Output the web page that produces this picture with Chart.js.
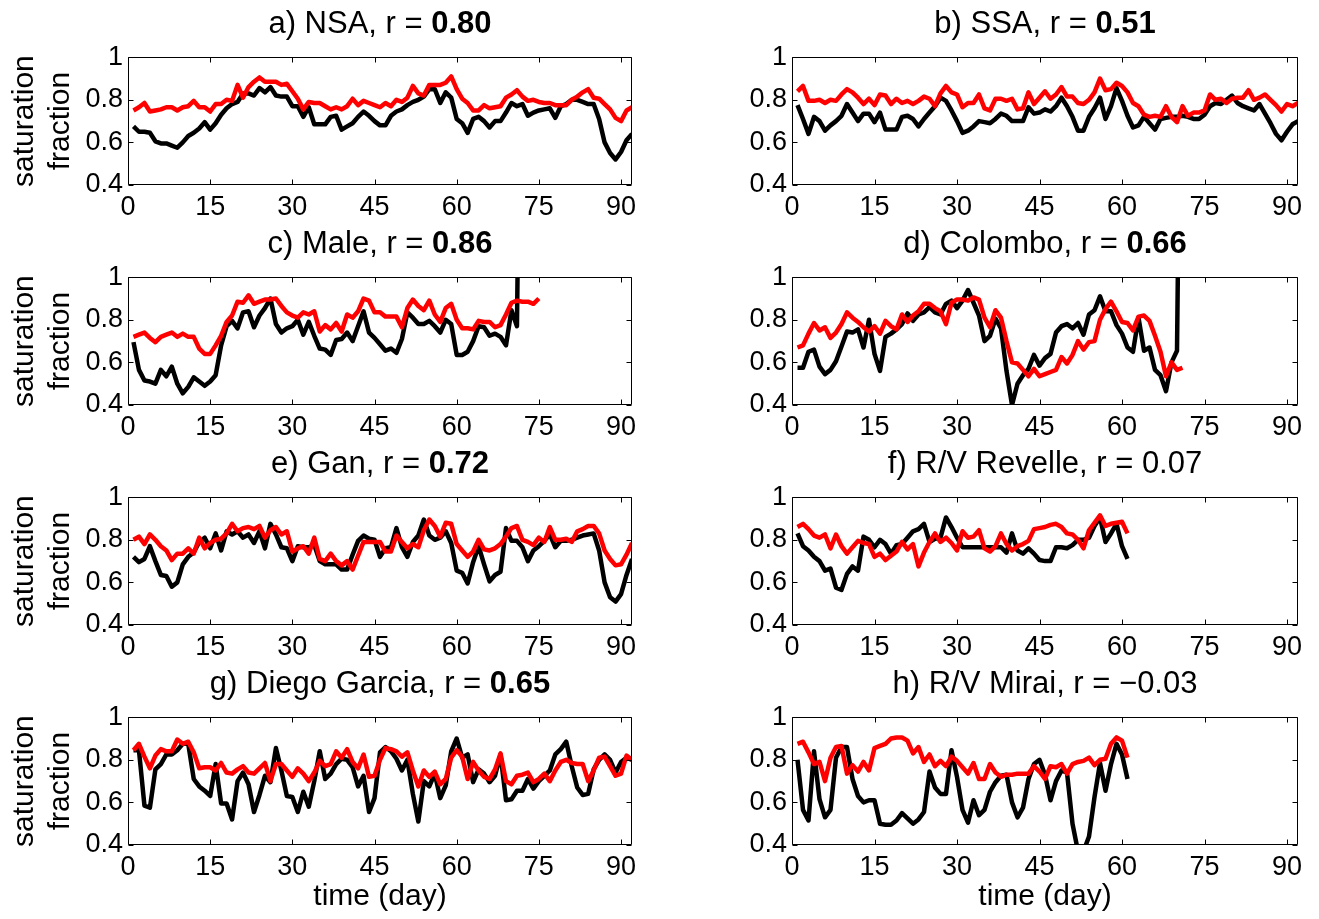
<!DOCTYPE html>
<html>
<head>
<meta charset="utf-8">
<script src="https://cdn.jsdelivr.net/npm/chart.js@4.4.1/dist/chart.umd.min.js"></script>
<style>
  body { margin: 0; background: #fff; width: 1319px; height: 919px; position: relative; overflow: hidden; font-family: "Liberation Sans", Arial, sans-serif; }
  canvas { position: absolute; }
  .ttl { position: absolute; width: 600px; font-size: 31px; line-height: 36px; text-align: center; white-space: nowrap; color: #000; }
</style>
</head>
<body>
<script>
// axis ticks
const xTicks = [0, 15, 30, 45, 60, 75, 90];
const yTicks = [0.4, 0.6, 0.8, 1];
const yTickLabels = ["0.4", "0.6", "0.8", "1"];

// black = observed, red = model; one value per day starting at day 1
const nsaObs = [0.675, 0.65, 0.65, 0.645, 0.605, 0.595, 0.595, 0.585, 0.575, 0.60,
	0.63, 0.645, 0.665, 0.695, 0.66, 0.69, 0.73, 0.76, 0.78, 0.79,
	0.83, 0.83, 0.82, 0.855, 0.835, 0.86, 0.82, 0.815, 0.815, 0.77,
	0.77, 0.72, 0.765, 0.685, 0.685, 0.685, 0.72, 0.725, 0.66, 0.675,
	0.69, 0.72, 0.745, 0.725, 0.70, 0.68, 0.68, 0.725, 0.745, 0.755,
	0.775, 0.79, 0.80, 0.815, 0.85, 0.85, 0.785, 0.835, 0.81, 0.71,
	0.69, 0.645, 0.71, 0.72, 0.70, 0.67, 0.70, 0.70, 0.74, 0.785,
	0.77, 0.78, 0.725, 0.74, 0.75, 0.755, 0.76, 0.715, 0.77, 0.78,
	0.80, 0.80, 0.79, 0.78, 0.78, 0.71, 0.60, 0.55, 0.52, 0.555,
	0.61, 0.64];
const nsaModel = [0.75, 0.765, 0.785, 0.745, 0.75, 0.755, 0.765, 0.765, 0.75, 0.765,
	0.77, 0.795, 0.765, 0.765, 0.745, 0.78, 0.78, 0.80, 0.795, 0.87,
	0.81, 0.86, 0.885, 0.905, 0.885, 0.885, 0.885, 0.87, 0.875, 0.84,
	0.805, 0.755, 0.79, 0.785, 0.785, 0.77, 0.755, 0.765, 0.755, 0.77,
	0.805, 0.775, 0.795, 0.785, 0.775, 0.765, 0.785, 0.77, 0.80, 0.79,
	0.81, 0.865, 0.83, 0.82, 0.87, 0.87, 0.87, 0.88, 0.91, 0.85,
	0.805, 0.785, 0.75, 0.75, 0.775, 0.76, 0.765, 0.77, 0.81, 0.825,
	0.845, 0.815, 0.795, 0.80, 0.79, 0.785, 0.785, 0.775, 0.775, 0.775,
	0.80, 0.815, 0.835, 0.85, 0.81, 0.805, 0.78, 0.755, 0.715, 0.70,
	0.75, 0.765];

const ssaObs = [0.775, 0.71, 0.64, 0.72, 0.70, 0.655, 0.68, 0.70, 0.725, 0.78,
	0.74, 0.70, 0.735, 0.735, 0.695, 0.74, 0.66, 0.66, 0.66, 0.72,
	0.725, 0.71, 0.675, 0.71, 0.74, 0.77, 0.81, 0.795, 0.75, 0.70,
	0.645, 0.655, 0.675, 0.70, 0.695, 0.69, 0.71, 0.735, 0.725, 0.70,
	0.70, 0.70, 0.765, 0.735, 0.74, 0.755, 0.745, 0.77, 0.81, 0.77,
	0.72, 0.655, 0.655, 0.72, 0.76, 0.81, 0.71, 0.77, 0.855, 0.795,
	0.725, 0.67, 0.68, 0.72, 0.69, 0.66, 0.71, 0.715, 0.72, 0.72,
	0.725, 0.72, 0.71, 0.71, 0.73, 0.77, 0.785, 0.78, 0.80, 0.82,
	0.785, 0.77, 0.76, 0.75, 0.78, 0.735, 0.69, 0.64, 0.61, 0.65,
	0.685, 0.70];
const ssaModel = [0.84, 0.865, 0.795, 0.795, 0.80, 0.785, 0.80, 0.795, 0.825, 0.85,
	0.835, 0.81, 0.78, 0.805, 0.775, 0.825, 0.82, 0.78, 0.805, 0.785,
	0.795, 0.78, 0.795, 0.815, 0.805, 0.77, 0.83, 0.865, 0.835, 0.825,
	0.765, 0.785, 0.785, 0.825, 0.76, 0.75, 0.805, 0.805, 0.795, 0.805,
	0.755, 0.76, 0.835, 0.78, 0.81, 0.84, 0.805, 0.825, 0.86, 0.815,
	0.815, 0.785, 0.78, 0.80, 0.835, 0.90, 0.845, 0.85, 0.88, 0.865,
	0.835, 0.785, 0.77, 0.73, 0.72, 0.725, 0.72, 0.77, 0.72, 0.695,
	0.77, 0.725, 0.74, 0.74, 0.75, 0.825, 0.80, 0.805, 0.785, 0.805,
	0.81, 0.81, 0.845, 0.80, 0.81, 0.825, 0.80, 0.775, 0.745, 0.78,
	0.77, 0.785];

// last Male / Colombo obs value runs far off the top of the axes
const maleObs = [0.695, 0.565, 0.515, 0.51, 0.50, 0.565, 0.535, 0.58, 0.50, 0.455,
	0.485, 0.53, 0.51, 0.49, 0.51, 0.54, 0.68, 0.77, 0.795, 0.76,
	0.835, 0.84, 0.765, 0.82, 0.855, 0.90, 0.78, 0.74, 0.76, 0.77,
	0.80, 0.73, 0.79, 0.725, 0.665, 0.66, 0.635, 0.705, 0.71, 0.74,
	0.70, 0.77, 0.84, 0.74, 0.715, 0.685, 0.655, 0.665, 0.645, 0.71,
	0.835, 0.81, 0.78, 0.78, 0.795, 0.77, 0.74, 0.80, 0.78, 0.635,
	0.635, 0.65, 0.70, 0.77, 0.765, 0.725, 0.735, 0.72, 0.68, 0.845,
	0.77, 3.0];
const maleModel = [0.72, 0.73, 0.74, 0.715, 0.695, 0.72, 0.73, 0.74, 0.72, 0.735,
	0.72, 0.72, 0.665, 0.64, 0.64, 0.68, 0.725, 0.79, 0.82, 0.885,
	0.88, 0.915, 0.875, 0.885, 0.895, 0.895, 0.90, 0.865, 0.835, 0.82,
	0.81, 0.835, 0.825, 0.84, 0.745, 0.775, 0.755, 0.785, 0.745, 0.825,
	0.81, 0.84, 0.90, 0.89, 0.835, 0.835, 0.815, 0.815, 0.815, 0.765,
	0.855, 0.895, 0.865, 0.845, 0.89, 0.825, 0.79, 0.855, 0.875, 0.80,
	0.76, 0.76, 0.755, 0.795, 0.79, 0.79, 0.765, 0.775, 0.825, 0.88,
	0.89, 0.885, 0.885, 0.875, 0.90];

const colomboObs = [0.575, 0.575, 0.65, 0.66, 0.58, 0.545, 0.565, 0.605, 0.675, 0.745,
	0.74, 0.755, 0.67, 0.80, 0.64, 0.56, 0.72, 0.735, 0.755, 0.78,
	0.83, 0.795, 0.825, 0.835, 0.86, 0.835, 0.825, 0.875, 0.89, 0.855,
	0.89, 0.94, 0.88, 0.82, 0.70, 0.725, 0.805, 0.76, 0.56, 0.40,
	0.50, 0.54, 0.57, 0.635, 0.585, 0.62, 0.64, 0.74, 0.77, 0.78,
	0.76, 0.785, 0.73, 0.825, 0.845, 0.91, 0.84, 0.84, 0.775, 0.735,
	0.67, 0.65, 0.81, 0.655, 0.67, 0.565, 0.54, 0.465, 0.60, 0.655,
	3.0];
const colomboModel = [0.67, 0.68, 0.735, 0.785, 0.75, 0.765, 0.715, 0.74, 0.78, 0.835,
	0.81, 0.79, 0.765, 0.745, 0.77, 0.735, 0.795, 0.77, 0.755, 0.825,
	0.79, 0.82, 0.84, 0.875, 0.875, 0.855, 0.84, 0.78, 0.88, 0.895,
	0.895, 0.89, 0.905, 0.895, 0.81, 0.765, 0.845, 0.81, 0.70, 0.60,
	0.595, 0.565, 0.535, 0.57, 0.535, 0.545, 0.555, 0.565, 0.625, 0.595,
	0.635, 0.70, 0.66, 0.695, 0.70, 0.80, 0.85, 0.885, 0.84, 0.79,
	0.785, 0.75, 0.815, 0.82, 0.795, 0.725, 0.65, 0.535, 0.60, 0.565,
	0.575];

const ganObs = [0.72, 0.695, 0.71, 0.77, 0.70, 0.635, 0.63, 0.58, 0.60, 0.685,
	0.72, 0.74, 0.79, 0.81, 0.76, 0.83, 0.75, 0.84, 0.825, 0.84,
	0.81, 0.825, 0.785, 0.84, 0.76, 0.875, 0.825, 0.765, 0.76, 0.70,
	0.77, 0.765, 0.765, 0.775, 0.70, 0.685, 0.685, 0.685, 0.66, 0.66,
	0.73, 0.795, 0.82, 0.805, 0.80, 0.72, 0.76, 0.765, 0.855, 0.765,
	0.72, 0.79, 0.82, 0.895, 0.82, 0.80, 0.81, 0.84, 0.785, 0.655,
	0.645, 0.595, 0.695, 0.77, 0.685, 0.605, 0.635, 0.65, 0.855, 0.795,
	0.795, 0.765, 0.70, 0.75, 0.77, 0.795, 0.825, 0.765, 0.795, 0.795,
	0.80, 0.81, 0.82, 0.825, 0.83, 0.75, 0.60, 0.53, 0.51, 0.545,
	0.635, 0.71];
const ganModel = [0.80, 0.815, 0.78, 0.825, 0.80, 0.77, 0.75, 0.705, 0.735, 0.735,
	0.76, 0.735, 0.81, 0.76, 0.785, 0.80, 0.805, 0.83, 0.875, 0.84,
	0.855, 0.86, 0.85, 0.865, 0.81, 0.845, 0.86, 0.825, 0.84, 0.745,
	0.76, 0.77, 0.735, 0.81, 0.71, 0.70, 0.735, 0.70, 0.68, 0.70,
	0.66, 0.725, 0.79, 0.79, 0.79, 0.79, 0.745, 0.745, 0.82, 0.79,
	0.76, 0.78, 0.765, 0.845, 0.895, 0.865, 0.815, 0.88, 0.875, 0.78,
	0.75, 0.72, 0.745, 0.80, 0.755, 0.75, 0.76, 0.78, 0.815, 0.855,
	0.865, 0.80, 0.79, 0.775, 0.81, 0.79, 0.86, 0.80, 0.80, 0.805,
	0.79, 0.84, 0.85, 0.865, 0.865, 0.83, 0.75, 0.71, 0.68, 0.685,
	0.73, 0.785];

const revelleObs = [0.83, 0.77, 0.75, 0.72, 0.70, 0.655, 0.665, 0.575, 0.565, 0.64,
	0.675, 0.655, 0.815, 0.80, 0.765, 0.80, 0.78, 0.735, 0.775, 0.78,
	0.81, 0.84, 0.85, 0.875, 0.79, 0.805, 0.81, 0.905, 0.86, 0.81,
	0.765, 0.765, 0.765, 0.765, 0.765, 0.765, 0.765, 0.765, 0.74, 0.83,
	0.75, 0.735, 0.76, 0.735, 0.705, 0.70, 0.70, 0.765, 0.765, 0.76,
	0.775, 0.80, 0.80, 0.81, 0.865, 0.905, 0.79, 0.83, 0.875, 0.77,
	0.71];
const revelleModel = [0.86, 0.875, 0.85, 0.82, 0.81, 0.825, 0.76, 0.825, 0.77, 0.735,
	0.765, 0.795, 0.785, 0.78, 0.72, 0.735, 0.705, 0.725, 0.745, 0.79,
	0.755, 0.78, 0.675, 0.74, 0.79, 0.83, 0.79, 0.81, 0.785, 0.75,
	0.84, 0.81, 0.815, 0.845, 0.76, 0.745, 0.77, 0.83, 0.78, 0.75,
	0.77, 0.78, 0.795, 0.85, 0.855, 0.86, 0.87, 0.875, 0.86, 0.83,
	0.825, 0.80, 0.76, 0.845, 0.88, 0.915, 0.865, 0.875, 0.88, 0.885,
	0.83];

const diegoObs = [0.845, 0.845, 0.585, 0.575, 0.755, 0.78, 0.825, 0.825, 0.845, 0.875,
	0.875, 0.71, 0.675, 0.655, 0.63, 0.78, 0.595, 0.595, 0.52, 0.70,
	0.74, 0.685, 0.555, 0.635, 0.725, 0.695, 0.855, 0.75, 0.63, 0.625,
	0.555, 0.65, 0.58, 0.70, 0.84, 0.71, 0.735, 0.78, 0.805, 0.80,
	0.765, 0.675, 0.725, 0.555, 0.62, 0.835, 0.86, 0.84, 0.805, 0.75,
	0.80, 0.64, 0.51, 0.70, 0.675, 0.735, 0.62, 0.68, 0.84, 0.90,
	0.81, 0.825, 0.695, 0.755, 0.735, 0.695, 0.725, 0.825, 0.61, 0.615,
	0.655, 0.655, 0.71, 0.665, 0.70, 0.725, 0.75, 0.825, 0.85, 0.885,
	0.77, 0.67, 0.635, 0.64, 0.755, 0.80, 0.825, 0.80, 0.74, 0.79,
	0.81, 0.80];
const diegoModel = [0.845, 0.875, 0.815, 0.76, 0.82, 0.85, 0.84, 0.84, 0.895, 0.875,
	0.885, 0.835, 0.76, 0.765, 0.765, 0.75, 0.785, 0.74, 0.735, 0.755,
	0.77, 0.74, 0.735, 0.76, 0.785, 0.70, 0.78, 0.78, 0.75, 0.72,
	0.76, 0.735, 0.70, 0.74, 0.795, 0.77, 0.78, 0.84, 0.81, 0.85,
	0.79, 0.76, 0.825, 0.72, 0.725, 0.80, 0.855, 0.85, 0.84, 0.815,
	0.835, 0.75, 0.675, 0.75, 0.72, 0.745, 0.685, 0.71, 0.81, 0.845,
	0.815, 0.71, 0.79, 0.75, 0.72, 0.71, 0.755, 0.83, 0.70, 0.685,
	0.725, 0.73, 0.74, 0.695, 0.71, 0.735, 0.70, 0.75, 0.79, 0.80,
	0.785, 0.78, 0.78, 0.70, 0.75, 0.81, 0.815, 0.77, 0.725, 0.735,
	0.82, 0.80];

const miraiObs = [0.80, 0.565, 0.515, 0.84, 0.615, 0.53, 0.565, 0.81, 0.86, 0.86,
	0.71, 0.63, 0.60, 0.61, 0.61, 0.50, 0.495, 0.495, 0.515, 0.55,
	0.525, 0.50, 0.52, 0.555, 0.745, 0.67, 0.64, 0.64, 0.845, 0.72,
	0.565, 0.505, 0.61, 0.54, 0.565, 0.65, 0.695, 0.725, 0.73, 0.60,
	0.53, 0.575, 0.71, 0.78, 0.80, 0.73, 0.61, 0.70, 0.75, 0.74,
	0.50, 0.37, 0.37, 0.44, 0.625, 0.785, 0.655, 0.78, 0.875, 0.825,
	0.71];
const miraiModel = [0.875, 0.885, 0.835, 0.78, 0.79, 0.70, 0.81, 0.86, 0.865, 0.735,
	0.775, 0.745, 0.79, 0.75, 0.855, 0.865, 0.875, 0.90, 0.905, 0.905,
	0.89, 0.83, 0.86, 0.79, 0.825, 0.77, 0.795, 0.77, 0.815, 0.795,
	0.765, 0.735, 0.785, 0.71, 0.71, 0.78, 0.74, 0.72, 0.73, 0.73,
	0.735, 0.735, 0.735, 0.77, 0.745, 0.71, 0.77, 0.765, 0.78, 0.735,
	0.78, 0.79, 0.795, 0.81, 0.775, 0.80, 0.805, 0.875, 0.905, 0.89,
	0.81];

const panels = [
	{ label: "a) NSA, r = ", r: "0.80", bold: true, obs: nsaObs, model: nsaModel },
	{ label: "b) SSA, r = ", r: "0.51", bold: true, obs: ssaObs, model: ssaModel },
	{ label: "c) Male, r = ", r: "0.86", bold: true, obs: maleObs, model: maleModel },
	{ label: "d) Colombo, r = ", r: "0.66", bold: true, obs: colomboObs, model: colomboModel },
	{ label: "e) Gan, r = ", r: "0.72", bold: true, obs: ganObs, model: ganModel },
	{ label: "f) R/V Revelle, r = ", r: "0.07", bold: false, obs: revelleObs, model: revelleModel },
	{ label: "g) Diego Garcia, r = ", r: "0.65", bold: true, obs: diegoObs, model: diegoModel },
	{ label: "h) R/V Mirai, r = ", r: "\u22120.03", bold: false, obs: miraiObs, model: miraiModel }
];

Chart.defaults.font.family = "'Liberation Sans', Arial, sans-serif";
Chart.defaults.color = "#000";

// axes box with short inward ticks on all four sides (matlab style)
const boxTicks = {
	id: "boxTicks",
	afterDatasetsDraw(chart) {
		const { ctx, chartArea: a, scales: { x, y } } = chart;
		const L = Math.round(a.left) + 0.5, R = Math.round(a.right) - 0.5;
		const T = Math.round(a.top) + 0.5, B = Math.round(a.bottom) - 0.5;
		ctx.save();
		ctx.strokeStyle = "#000";
		ctx.lineWidth = 1;
		ctx.beginPath();
		ctx.rect(L, T, R - L, B - T);
		x.ticks.forEach(t => {
			const px = Math.round(x.getPixelForValue(t.value)) + 0.5;
			ctx.moveTo(px, B); ctx.lineTo(px, B - 5);
			ctx.moveTo(px, T); ctx.lineTo(px, T + 5);
		});
		y.ticks.forEach(t => {
			const py = Math.round(y.getPixelForValue(t.value)) + 0.5;
			ctx.moveTo(L, py); ctx.lineTo(L + 5, py);
			ctx.moveTo(R, py); ctx.lineTo(R - 5, py);
		});
		ctx.stroke();
		ctx.restore();
	}
};

const colLeft = [128, 792];
const colRight = [632, 1298];
const rowTop = [56, 276, 496, 716];
const plotH = 129;

panels.forEach((p, i) => {
	const col = i % 2, row = Math.floor(i / 2);
	const bottomRow = row === 3;
	const canvasLeft = col === 0 ? 0 : 700;
	const yw = colLeft[col] - canvasLeft;
	const padTop = 20, padRight = 20;
	const xh = bottomRow ? 70 : 40;

	const cv = document.createElement("canvas");
	cv.width = colRight[col] + padRight - canvasLeft;
	cv.height = padTop + plotH + xh;
	cv.style.left = canvasLeft + "px";
	cv.style.top = (rowTop[row] - padTop) + "px";
	document.body.appendChild(cv);

	const ttl = document.createElement("div");
	ttl.className = "ttl";
	ttl.style.left = ((colLeft[col] + colRight[col]) / 2 - 300) + "px";
	ttl.style.top = (rowTop[row] - 51) + "px";
	ttl.innerHTML = p.label + (p.bold ? "<b>" + p.r + "</b>" : p.r);
	document.body.appendChild(ttl);

	new Chart(cv, {
		type: "line",
		data: {
			datasets: [
				{
					data: p.obs.map((v, k) => ({ x: k + 1, y: v })),
					borderColor: "#000000",
					borderWidth: 4.5,
					borderJoinStyle: "round",
					pointRadius: 0,
					tension: 0,
					order: 1
				},
				{
					data: p.model.map((v, k) => ({ x: k + 1, y: v })),
					borderColor: "#ff0000",
					borderWidth: 4.5,
					borderJoinStyle: "round",
					pointRadius: 0,
					tension: 0,
					order: 0
				}
			]
		},
		options: {
			responsive: false,
			animation: false,
			devicePixelRatio: 1,
			layout: { padding: { top: padTop, right: padRight, left: 0, bottom: 0 } },
			plugins: { legend: { display: false }, tooltip: { enabled: false } },
			scales: {
				x: {
					type: "linear",
					min: 0,
					max: 92,
					grid: { display: false, drawTicks: false },
					border: { display: false },
					afterBuildTicks: s => { s.ticks = xTicks.map(v => ({ value: v })); },
					afterFit: s => { s.height = xh; },
					ticks: { padding: 6, font: { size: 27 }, maxRotation: 0, autoSkip: false },
					title: {
						display: bottomRow,
						text: "time (day)",
						font: { size: 30 },
						padding: { top: 0, bottom: 0 }
					}
				},
				y: {
					min: 0.4,
					max: 1,
					grid: { display: false, drawTicks: false },
					border: { display: false },
					afterBuildTicks: s => { s.ticks = yTicks.map(v => ({ value: v })); },
					afterFit: s => { s.width = yw; },
					ticks: { padding: 5, font: { size: 27 }, callback: (v, idx) => yTickLabels[idx] },
					title: {
						display: col === 0,
						text: ["saturation", "fraction"],
						font: { size: 30 },
						padding: { top: 7, bottom: 0 }
					}
				}
			}
		},
		plugins: [boxTicks]
	});
});
</script>
</body>
</html>
